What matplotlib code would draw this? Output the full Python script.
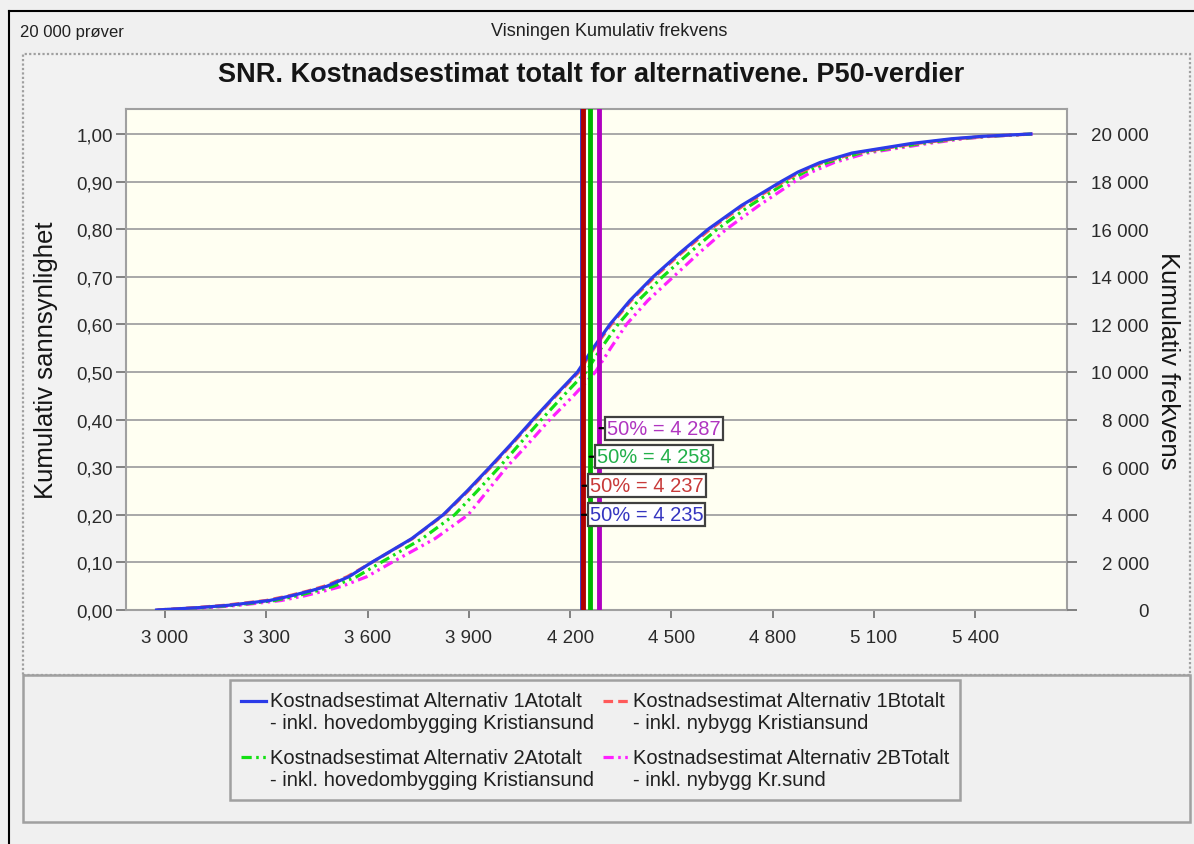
import numpy as np
import matplotlib
matplotlib.use("Agg")
import matplotlib.pyplot as plt
from matplotlib.ticker import FixedLocator, FuncFormatter
from matplotlib.lines import Line2D
from matplotlib.patches import Rectangle
from matplotlib.legend_handler import HandlerLine2D

plt.rcParams['font.family'] = ['Liberation Sans', 'DejaVu Sans']

# ---------------- data ----------------
probs = [0.0, 0.005, 0.01, 0.02, 0.03, 0.04, 0.05, 0.07, 0.10, 0.15, 0.20, 0.25, 0.30,
         0.35, 0.40, 0.45, 0.50, 0.55, 0.60, 0.65, 0.70, 0.75, 0.80, 0.85, 0.90, 0.92,
         0.94, 0.96, 0.98, 0.99, 0.995, 1.0]

alt_1a = [2975, 3100, 3190, 3310, 3375, 3430, 3480, 3545, 3612, 3731, 3824, 3895, 3962,
          4027, 4090, 4155, 4222, 4268, 4318, 4377, 4446, 4525, 4609, 4708, 4825, 4875,
          4940, 5035, 5210, 5330, 5420, 5565]
alt_1b = [2975, 3090, 3178, 3300, 3368, 3424, 3472, 3540, 3613, 3733, 3826, 3898, 3965,
          4030, 4093, 4158, 4226, 4271, 4322, 4381, 4451, 4530, 4615, 4714, 4832, 4882,
          4948, 5045, 5225, 5345, 5430, 5568]
alt_2a = [2980, 3115, 3205, 3325, 3392, 3448, 3500, 3568, 3640, 3762, 3858, 3925, 3990,
          4052, 4115, 4180, 4247, 4292, 4342, 4402, 4474, 4553, 4636, 4734, 4845, 4895,
          4962, 5060, 5240, 5350, 5435, 5568]
alt_2b = [2985, 3130, 3220, 3345, 3415, 3472, 3525, 3598, 3672, 3800, 3898, 3955, 4012,
          4077, 4140, 4210, 4275, 4320, 4367, 4430, 4506, 4582, 4663, 4760, 4865, 4915,
          4982, 5080, 5260, 5365, 5445, 5570]

p50_values = [4235, 4237, 4258, 4287]          # 1A, 1B, 2A, 2B

series_labels = [
    "Kostnadsestimat Alternativ 1Atotalt\n- inkl. hovedombygging Kristiansund",
    "Kostnadsestimat Alternativ 1Btotalt\n- inkl. nybygg Kristiansund",
    "Kostnadsestimat Alternativ 2Atotalt\n- inkl. hovedombygging Kristiansund",
    "Kostnadsestimat Alternativ 2BTotalt\n- inkl. nybygg Kr.sund",
]

x_ticks = [3000, 3300, 3600, 3900, 4200, 4500, 4800, 5100, 5400]
y_ticks = [0.0, 0.1, 0.2, 0.3, 0.4, 0.5, 0.6, 0.7, 0.8, 0.9, 1.0]
y2_ticks = [0, 2000, 4000, 6000, 8000, 10000, 12000, 14000, 16000, 18000, 20000]
n_samples = 20000

title = "SNR. Kostnadsestimat totalt for alternativene. P50-verdier"
top_left_text = "20 000 prøver"
top_center_text = "Visningen Kumulativ frekvens"
ylabel_left = "Kumulativ sannsynlighet"
ylabel_right = "Kumulativ frekvens"

# ---------------- styles ----------------
curve_colors = ['#2B3BE8', '#FF5A5A', '#12E012', '#FF20FF']
curve_styles = ['-', (0, (3.0, 1.6)), (0, (3.2, 1.4, 0.8, 1.4, 0.8, 1.4)),
                (0, (3.2, 1.4, 0.8, 1.4, 0.8, 1.4))]
vline_colors = ['#3030C8', '#B00000', '#00B400', '#B000C0']
label_colors = ['#3535C0', '#C83A3A', '#22B04A', '#B035C0']
label_probs = [0.200, 0.261, 0.322, 0.382]

W, H = 1194, 845
fig = plt.figure(figsize=(W / 100, H / 100), dpi=100)
fig.patch.set_facecolor('#F0F0F0')

def fx(px):
    return px / W

def fy(py):
    return 1 - py / H

# outer window frame (left and top black lines)
fig.add_artist(Line2D([fx(9), fx(9)], [fy(12), fy(845)], color='black', lw=1.5, zorder=-5))
fig.add_artist(Line2D([fx(9), fx(1194)], [fy(12), fy(12)], color='black', lw=1.5, zorder=-5))
# upper panel (dotted border)
fig.add_artist(Rectangle((fx(23), fy(676)), fx(1190) - fx(23), fy(55) - fy(676),
                         facecolor='#F2F2F2', edgecolor='#A0A0A0', lw=1.6,
                         linestyle=(0, (1, 1)), zorder=-10))
# lower panel
fig.add_artist(Rectangle((fx(23), fy(823)), fx(1190) - fx(23), fy(676) - fy(823),
                         facecolor='none', edgecolor='#A0A0A0', lw=1.8, zorder=-9))

fig.text(fx(20), fy(32), top_left_text, fontsize=12, ha='left', va='center', color='#202020')
fig.text(fx(609), fy(32), top_center_text, fontsize=13, ha='center', va='center', color='#202020')
fig.text(fx(591), fy(75), title, fontsize=19.5, fontweight='bold', ha='center', va='center',
         color='#151515')

ax_l, ax_r, ax_t, ax_b = 126, 1067, 110, 611
ax = fig.add_axes([fx(ax_l), fy(ax_b), fx(ax_r) - fx(ax_l), fy(ax_t) - fy(ax_b)])
ax.set_facecolor('#FFFFF2')
ax.set_xlim(2884.5, 5672)
ax.set_ylim(0, 1.0525)

for y in y_ticks[1:]:
    ax.axhline(y, color='#A8A8A8', lw=1.4, zorder=1)

series = [alt_1a, alt_1b, alt_2a, alt_2b]
for i in [3, 2, 1, 0]:
    ax.plot(series[i], probs, color=curve_colors[i], linestyle=curve_styles[i],
            lw=2.3, zorder=3 + (3 - i), solid_joinstyle='round')
handles = [Line2D([], [], color=curve_colors[i], linestyle=curve_styles[i], lw=2.3)
           for i in range(4)]

for i in range(4):
    ax.axvline(p50_values[i], color=vline_colors[i], lw=3.5, zorder=10 + i)

def fmt_thousands(v):
    return f"{v:,.0f}".replace(",", " ")

for i in range(4):
    ax.annotate(f"50% = {fmt_thousands(p50_values[i])}",
                xy=(p50_values[i], label_probs[i]), xytext=(5.5, 0),
                textcoords='offset points', ha='left', va='center',
                fontsize=14.5, color=label_colors[i], zorder=20,
                bbox=dict(boxstyle='square,pad=0.1', facecolor='white',
                          edgecolor='#404040', lw=1.6),
                arrowprops=dict(arrowstyle='-', color='black', lw=1.6,
                                shrinkA=0, shrinkB=0))

tick_color = '#808080'
text_color = '#2A2A2A'
ax.xaxis.set_major_locator(FixedLocator(x_ticks))
ax.xaxis.set_major_formatter(FuncFormatter(lambda v, p: fmt_thousands(v)))
ax.yaxis.set_major_locator(FixedLocator(y_ticks))
ax.yaxis.set_major_formatter(FuncFormatter(lambda v, p: f"{v:.2f}".replace(".", ",")))
ax.tick_params(axis='x', direction='out', length=6, width=1.4, color=tick_color,
               labelsize=13.5, labelcolor=text_color, pad=7.5)
ax.tick_params(axis='y', direction='out', length=7, width=1.4, color=tick_color,
               labelsize=13.5, labelcolor=text_color, pad=2.5)
for s in ax.spines.values():
    s.set_color('#A0A0A0')
    s.set_linewidth(1.5)

ax.set_ylabel(ylabel_left, fontsize=18.5, color='#151515')
ax.yaxis.set_label_coords((58 - ax_l) / (ax_r - ax_l), 0.5)

ax2 = ax.twinx()
ax2.set_ylim(0, 1.0525 * n_samples)
ax2.yaxis.set_major_locator(FixedLocator(y2_ticks))
ax2.yaxis.set_major_formatter(FuncFormatter(lambda v, p: fmt_thousands(v)))
ax2.tick_params(axis='y', direction='out', length=7, width=1.4, color=tick_color,
                labelsize=13.5, labelcolor=text_color, pad=52)
for lbl in ax2.get_yticklabels():
    lbl.set_horizontalalignment('right')
for s in ax2.spines.values():
    s.set_visible(False)
ax2.set_ylabel(ylabel_right, fontsize=18.5, color='#151515', rotation=270)
ax2.yaxis.set_label_coords((1180 - ax_l) / (ax_r - ax_l), 0.5)


class TopHandler(HandlerLine2D):
    def create_artists(self, legend, orig_handle, xdescent, ydescent, width, height,
                       fontsize, trans):
        arts = super().create_artists(legend, orig_handle, xdescent, ydescent, width,
                                      height, fontsize, trans)
        for a in arts:
            a.set_ydata(np.asarray(a.get_ydata()) + 0.55 * fontsize)
        return arts


order = [0, 2, 1, 3]   # column-wise fill: 1A, 2A | 1B, 2B
leg = ax.legend([handles[k] for k in order], [series_labels[k] for k in order], ncol=2,
                loc='center', bbox_to_anchor=(fx(595), fy(741)),
                bbox_transform=fig.transFigure,
                fontsize=14.5, frameon=True, fancybox=False, edgecolor='#A0A0A0',
                facecolor='#F0F0F0', framealpha=1, handlelength=1.25, handletextpad=0.2,
                columnspacing=0.45, labelspacing=0.75, borderpad=0.55,
                handler_map={Line2D: TopHandler()})
leg.get_frame().set_linewidth(1.8)
leg.set_zorder(30)
for t in leg.get_texts():
    t.set_color('#202020')

fig.savefig("out.png", dpi=100)
